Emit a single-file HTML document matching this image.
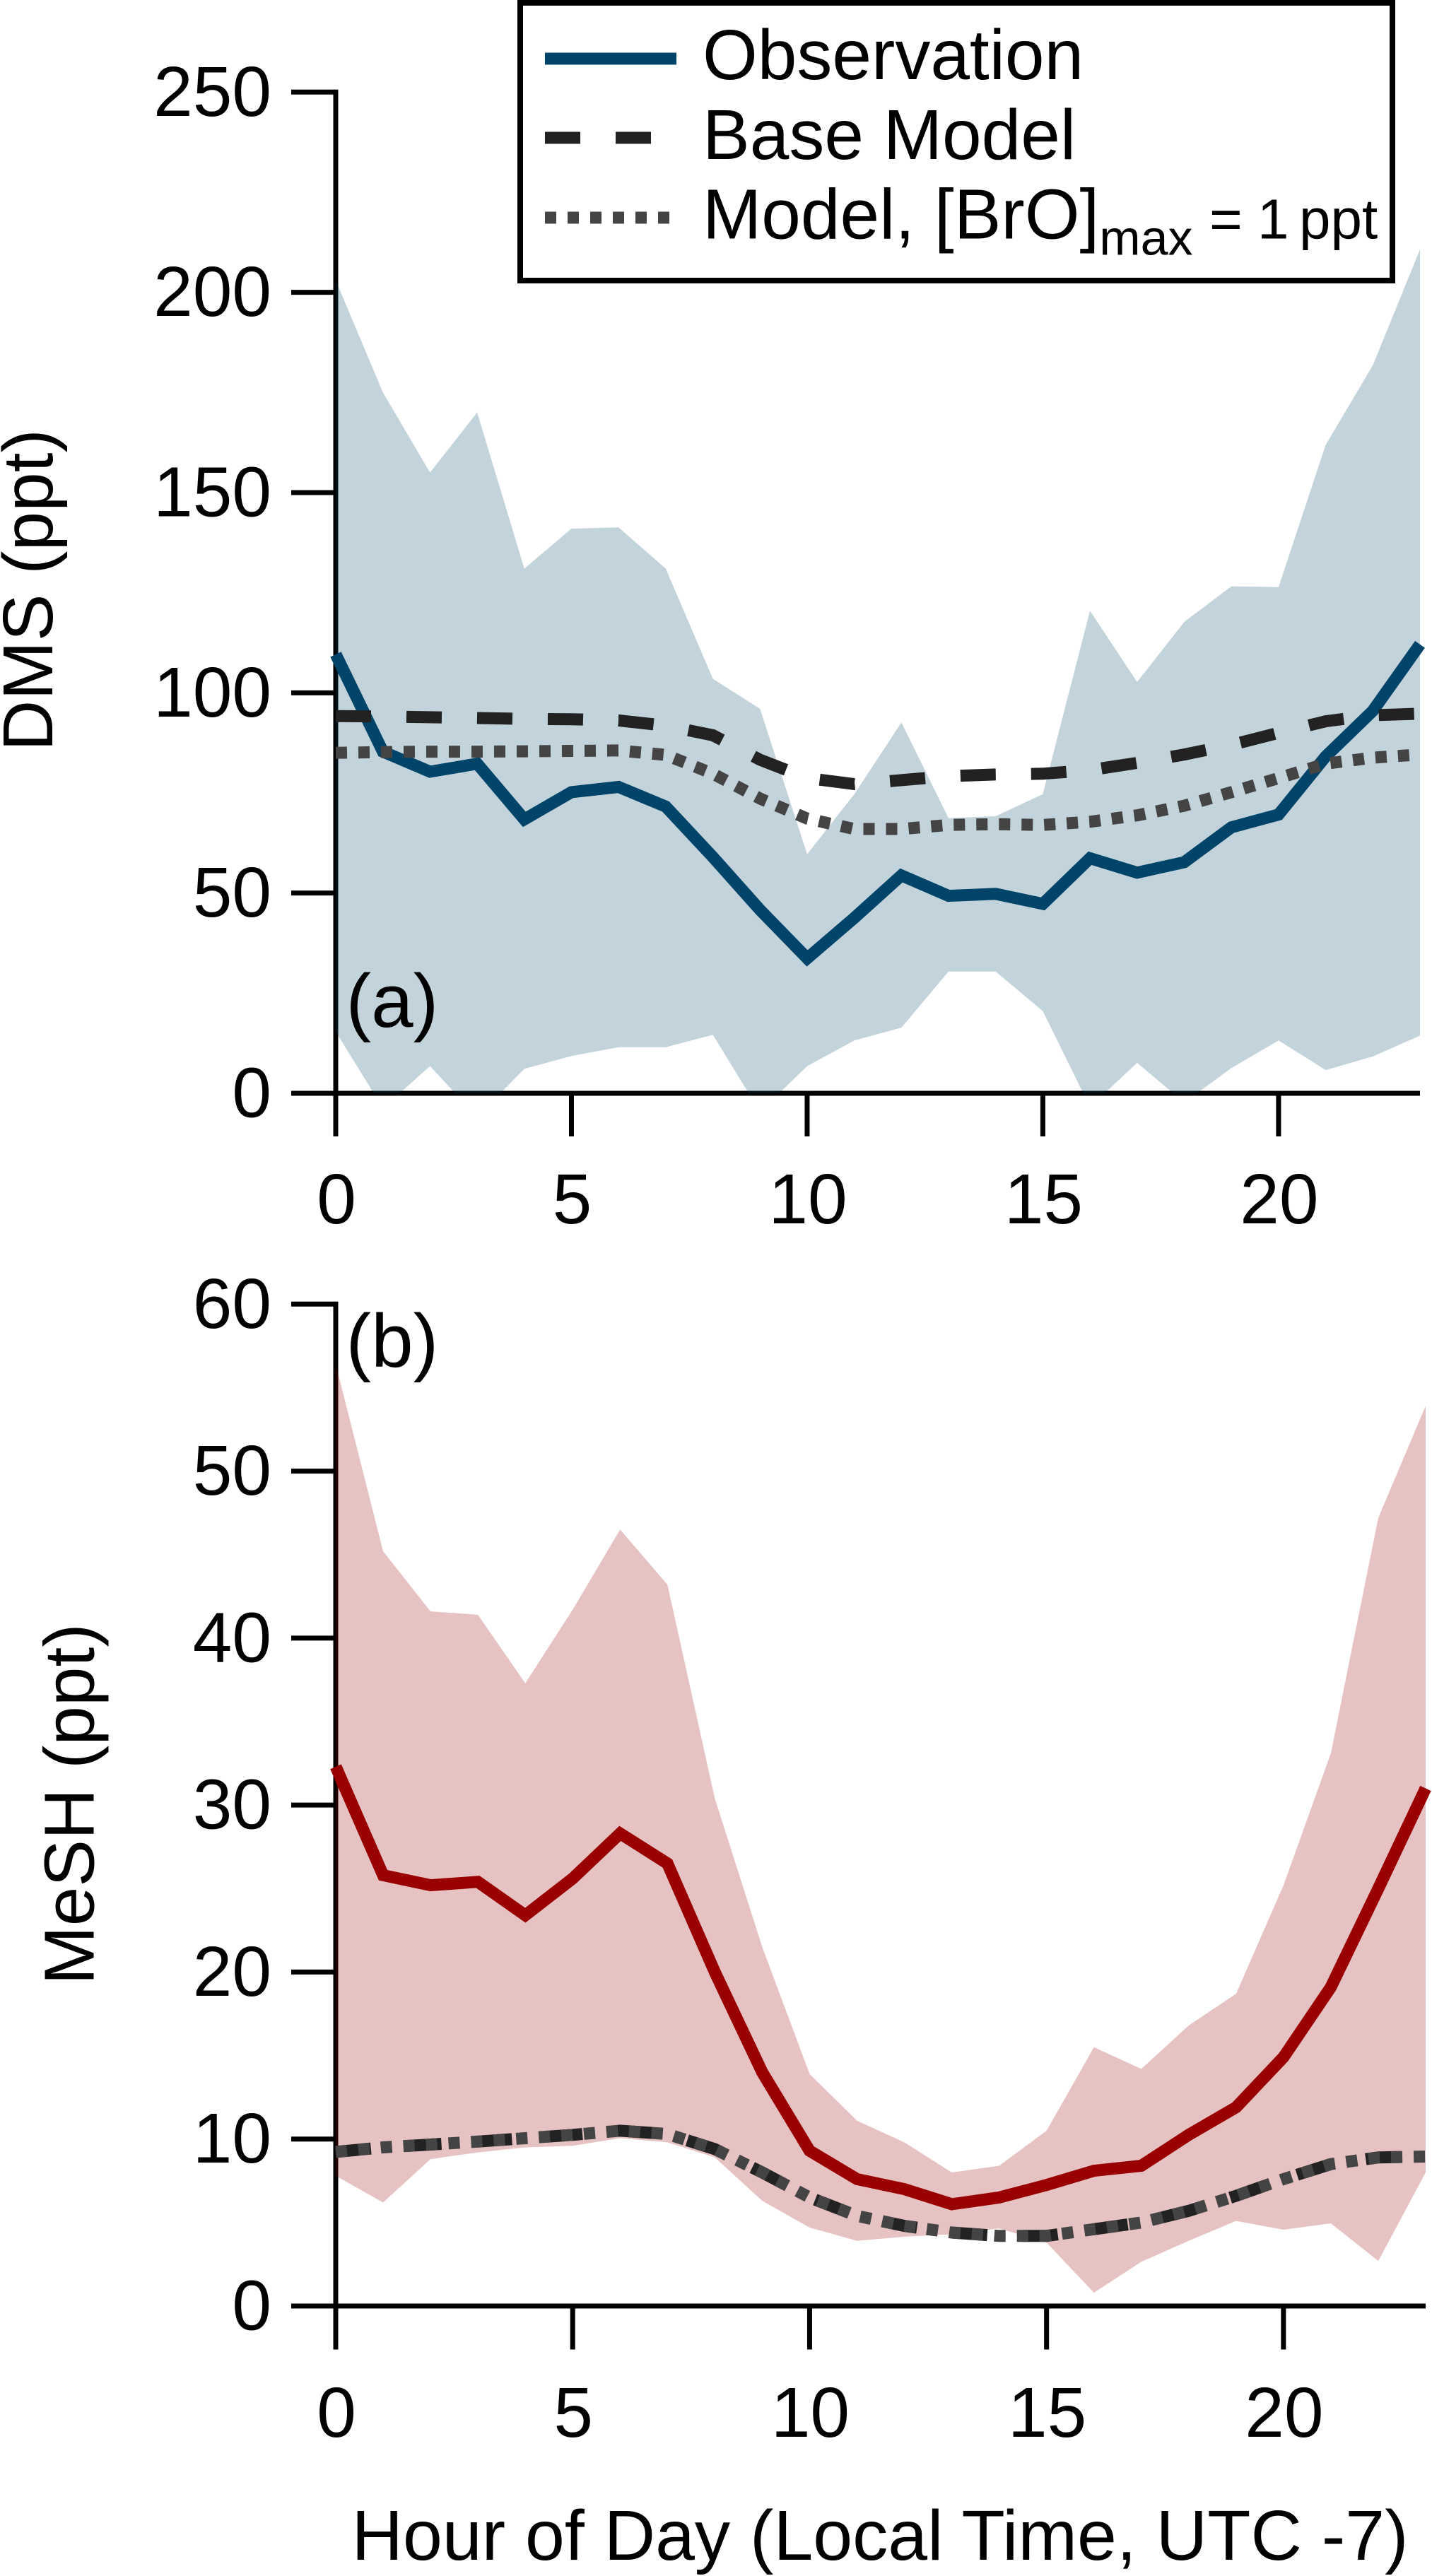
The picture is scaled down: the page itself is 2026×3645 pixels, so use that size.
<!DOCTYPE html>
<html>
<head>
<meta charset="utf-8">
<title>DMS and MeSH diurnal cycles</title>
<style>
html,body{margin:0;padding:0;background:#fff;}
svg{display:block;}
text{font-family:"Liberation Sans",Arial,sans-serif;fill:#000;}
</style>
</head>
<body>
<svg id="chart" xmlns="http://www.w3.org/2000/svg" width="2026" height="3645" viewBox="0 0 2026 3645">
  <rect x="0" y="0" width="2026" height="3645" fill="#ffffff"/>
  <g id="panelA"></g>
  <g id="panelB"></g>

  <text font-size="100" text-anchor="middle" transform="translate(74 835) rotate(-90)">DMS (ppt)</text>
  <text font-size="100" text-anchor="middle" transform="translate(132.5 2553) rotate(-90)">MeSH (ppt)</text>
  <text font-size="100.4" x="497.5" y="3622">Hour of Day (Local Time, UTC -7)</text>
  <text font-size="107" x="489.5" y="1453">(a)</text>
  <text font-size="107" x="489.5" y="1934">(b)</text>

  <g>
    <rect x="736" y="4" width="1234" height="393" fill="#ffffff" stroke="#000000" stroke-width="8"/>
    <line x1="771" y1="83" x2="957" y2="83" stroke="#004569" stroke-width="17"/>
    <line x1="771" y1="195" x2="957" y2="195" stroke="#222222" stroke-width="17" stroke-dasharray="50 50"/>
    <line x1="771" y1="308" x2="957" y2="308" stroke="#444444" stroke-width="17" stroke-dasharray="16 16"/>
    <text font-size="100" x="994" y="112">Observation</text>
    <text font-size="100" x="994" y="225">Base Model</text>
    <text font-size="100" x="994" y="337.5">Model, [BrO]<tspan font-size="70" dy="23">max</tspan><tspan font-size="80" x="1711" dy="-23">=</tspan><tspan font-size="80" x="1779">1</tspan><tspan font-size="80" x="1838">ppt</tspan></text>
  </g>
</svg>

<script>
const hours = [0,1,2,3,4,5,6,7,8,9,10,11,12,13,14,15,16,17,18,19,20,21,22,23];

const dmsObservation = [109.6,85.3,80.3,82.3,68.4,75.2,76.5,71.6,59,45.8,33.7,43.8,54.4,49.3,49.8,47.3,58.7,55.1,57.7,66.4,69.6,84.1,95.5,112.1];
const dmsUpper = [203,175,155,170,131,141,141.3,131,103.5,96,59.7,74.7,92.6,68.7,69.2,74.7,120.5,102.7,117.7,126.6,126.4,161.9,181.8,210.7];
const dmsLower = [15.4,-3.7,6.8,-5.9,6.1,9.3,11.5,11.5,14.6,-4.6,6.8,13.2,16.4,30.4,30.4,20.5,-3.4,7.6,-2.3,6.3,13.2,5.8,9.2,14.4];
const dmsBaseModel = [94.2,94.1,93.9,93.7,93.5,93.4,93.1,91.8,89.4,83.3,78.7,77.2,78.2,79.2,79.6,79.8,80.7,82.5,84.6,87,90,92.9,94.4,94.8];
const dmsBroModel = [85,85.2,85.3,85.3,85.4,85.5,85.6,84.5,79.8,73.6,68.6,66,66,67,67.2,67,67.8,69.4,71.8,75.2,78.7,82.3,83.8,84.6];

const meshObservation = [32.3,25.8,25.2,25.4,23.4,25.6,28.3,26.5,20,14,9.3,7.6,7,6.1,6.5,7.25,8.1,8.4,10.25,11.9,14.9,19.1,25,31];
const meshUpper = [56.4,45.2,41.6,41.4,37.3,41.7,46.5,43.2,30.4,21.5,13.9,11.1,9.8,8,8.4,10.5,15.5,14.2,16.8,18.7,25.2,33.1,47.2,53.9];
const meshLower = [7.8,6.2,8.8,9.2,9.5,9.6,10.05,9.8,8.9,6.3,4.7,3.9,4.15,4.3,4.65,3.8,0.8,2.65,3.9,5.1,4.57,4.95,2.7,8];
const meshBaseModel = [9.23,9.5,9.67,9.85,10.05,10.25,10.5,10.3,9.4,8,6.5,5.4,4.8,4.4,4.2,4.2,4.6,5,5.7,6.6,7.6,8.5,8.9,8.95];
const meshBroModel = [9.23,9.5,9.67,9.85,10.05,10.25,10.5,10.3,9.4,8,6.5,5.4,4.8,4.4,4.2,4.2,4.6,5,5.7,6.6,7.6,8.5,8.9,8.95];

const xTickValues = [0,5,10,15,20];
const dmsTickValues = [0,50,100,150,200,250];
const meshTickValues = [0,10,20,30,40,50,60];

const NS = 'http://www.w3.org/2000/svg';
const LINE_W = 17;
const AXIS_W = 7;

function make(tag, attrs, parent) {
  const el = document.createElementNS(NS, tag);
  for (const k in attrs) el.setAttribute(k, attrs[k]);
  parent.appendChild(el);
  return el;
}
function scale(d0, d1, r0, r1) {
  return function (v) { return r0 + (v - d0) * (r1 - r0) / (d1 - d0); };
}
function linePoints(xs, ys, sx, sy) {
  return xs.map(function (h, i) { return sx(h).toFixed(1) + ',' + sy(ys[i]).toFixed(1); }).join(' ');
}

function drawPanel(cfg) {
  const g = cfg.group;
  const sx = scale(0, 23, cfg.x0, cfg.x23);
  const sy = scale(0, cfg.yMax, cfg.y0, cfg.yTop);

  // axes
  const yAxis = make('line', {x1: sx(0), y1: sy(cfg.yMax) - AXIS_W / 2, x2: sx(0), y2: cfg.xTickEnd, stroke: '#000', 'stroke-width': AXIS_W}, g);
  
  
  const xAxis = make('line', {x1: sx(0), y1: sy(0), x2: sx(23), y2: sy(0), stroke: '#000', 'stroke-width': AXIS_W}, g);
  
  

  cfg.yTicks.forEach(function (v) {
    const t = make('line', {x1: 412, y1: sy(v), x2: sx(0), y2: sy(v), stroke: '#000', 'stroke-width': AXIS_W}, g);
    
    
    const l = make('text', {x: 384, y: sy(v) + 33.5, 'font-size': 100, 'text-anchor': 'end'}, g);
    l.textContent = String(v);
    
    
  });
  cfg.xTicks.forEach(function (v) {
    const t = make('line', {x1: sx(v), y1: sy(0), x2: sx(v), y2: cfg.xTickEnd, stroke: '#000', 'stroke-width': AXIS_W}, g);
    
    
    const l = make('text', {x: sx(v) + 1, y: cfg.xLabelBase, 'font-size': 100, 'text-anchor': 'middle'}, g);
    l.textContent = String(v);
    
    
  });

  // band, clipped to the plot area
  const clipId = cfg.prefix + '-clip';
  const clip = make('clipPath', {id: clipId}, g);
  make('rect', {x: sx(0), y: sy(cfg.yMax), width: sx(23) - sx(0), height: sy(0) - sy(cfg.yMax)}, clip);
  const upperPts = linePoints(hours, cfg.upper, sx, sy);
  const lowerPts = linePoints(hours.slice().reverse(), cfg.lower.slice().reverse(), sx, sy);
  const band = make('polygon', {points: upperPts + ' ' + lowerPts, fill: cfg.color, 'fill-opacity': 0.24, 'clip-path': 'url(#' + clipId + ')'}, g);
  
  

  // series
  const obs = make('polyline', {points: linePoints(hours, cfg.obs, sx, sy), fill: 'none', stroke: cfg.color, 'stroke-width': LINE_W, 'stroke-linejoin': 'miter'}, g);
  
  
  const base = make('polyline', {points: linePoints(hours, cfg.base, sx, sy), fill: 'none', stroke: '#222222', 'stroke-width': LINE_W, 'stroke-dasharray': '50 50'}, g);
  
  
  const bro = make('polyline', {points: linePoints(hours, cfg.bro, sx, sy), fill: 'none', stroke: '#444444', 'stroke-width': LINE_W, 'stroke-dasharray': '16 16'}, g);
  
  
}

drawPanel({
  group: document.getElementById('panelA'), prefix: 'dms',
  x0: 475, x23: 2009, y0: 1547, yTop: 130.3, yMax: 250,
  xTickEnd: 1608, xLabelBase: 1731,
  yTicks: dmsTickValues, xTicks: xTickValues, color: '#004569',
  upper: dmsUpper, lower: dmsLower, obs: dmsObservation, base: dmsBaseModel, bro: dmsBroModel
});
drawPanel({
  group: document.getElementById('panelB'), prefix: 'mesh',
  x0: 475, x23: 2017, y0: 3263, yTop: 1845.3, yMax: 60,
  xTickEnd: 3324.5, xLabelBase: 3448,
  yTicks: meshTickValues, xTicks: xTickValues, color: '#990000',
  upper: meshUpper, lower: meshLower, obs: meshObservation, base: meshBaseModel, bro: meshBroModel
});
</script>
</body>
</html>
